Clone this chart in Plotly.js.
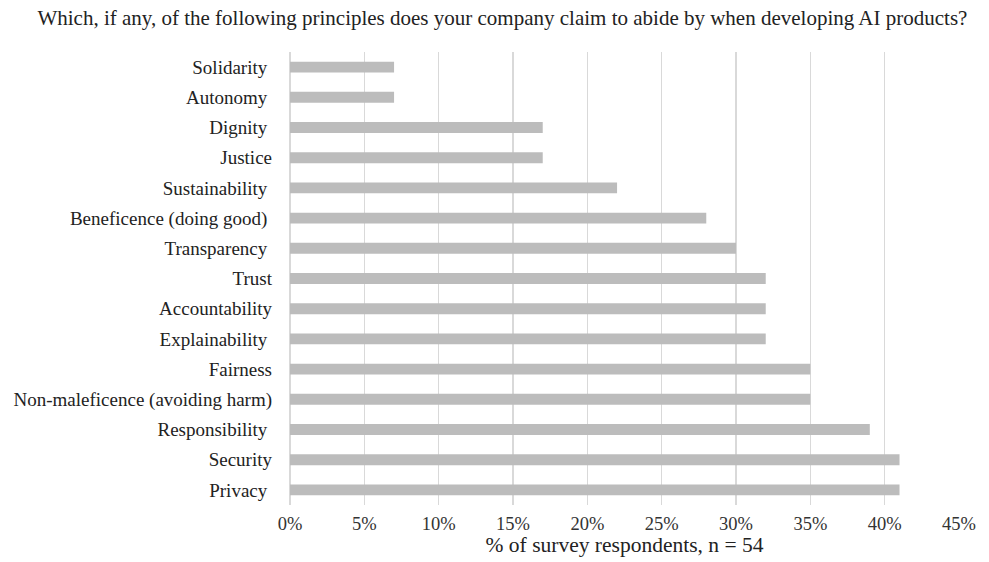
<!DOCTYPE html>
<html>
<head>
<meta charset="utf-8">
<script src="https://cdn.plot.ly/plotly-3.0.1.min.js"></script>
<style>html,body{margin:0;padding:0;background:#fff;}#chart{width:989px;height:562px;}</style>
</head>
<body>
<div id="chart"></div>
<script>
const categories = ["Solidarity","Autonomy","Dignity","Justice","Sustainability","Beneficence (doing good)","Transparency","Trust","Accountability","Explainability","Fairness","Non-maleficence (avoiding harm)","Responsibility","Security","Privacy"];
const tickLabels = ["Solidarity\u00a0","Autonomy\u00a0","Dignity\u00a0","Justice","Sustainability\u00a0","Beneficence (doing good)\u00a0","Transparency\u00a0","Trust","Accountability","Explainability\u00a0","Fairness","Non-maleficence (avoiding harm)","Responsibility\u00a0","Security","Privacy\u00a0"];
const values = [0.07,0.07,0.17,0.17,0.22,0.28,0.30,0.32,0.32,0.32,0.35,0.35,0.39,0.41,0.41];
const xTickVals = [0,0.05,0.10,0.15,0.20,0.25,0.30,0.35,0.40,0.45];

const font = "'Liberation Serif', 'DejaVu Serif', serif";
Plotly.newPlot('chart', [{
  type: 'bar',
  orientation: 'h',
  y: categories,
  x: values,
  marker: {color: '#bcbcbc'},
  hoverinfo: 'x+y'
}], {
  width: 989, height: 562,
  margin: {l: 290, r: 30, t: 52, b: 57},
  paper_bgcolor: '#fff', plot_bgcolor: '#fff',
  bargap: 0.64,
  font: {family: font, size: 19, color: '#222'},
  title: {text: 'Which, if any, of the following principles does your company claim to abide by when developing AI products?', x: 0.508, xanchor: 'center', y: 0.968, yanchor: 'middle', font: {family: font, size: 21, color: '#222'}},
  xaxis: {
    range: [0, 0.45], tickvals: xTickVals, tickformat: '.0%',
    showgrid: true, gridcolor: '#d9d9d9', gridwidth: 1.5,
    zeroline: true, zerolinecolor: '#d9d9d9', zerolinewidth: 1.5,
    showline: false, ticks: '', ticklabelstandoff: 5,
    tickfont: {family: font, size: 18.5, color: '#333'},
    title: {text: '% of survey respondents, n = 54', standoff: 2, font: {family: font, size: 21.5, color: '#222'}},
    fixedrange: true
  },
  yaxis: {
    categoryorder: 'array', categoryarray: categories,
    tickvals: categories, ticktext: tickLabels,
    autorange: 'reversed', showgrid: false, zeroline: false, showline: false,
    ticks: '', ticklabelstandoff: 17,
    tickfont: {family: font, size: 19, color: '#222'},
    fixedrange: true
  },
  showlegend: false
}, {displayModeBar: false, staticPlot: true});
</script>
</body>
</html>
